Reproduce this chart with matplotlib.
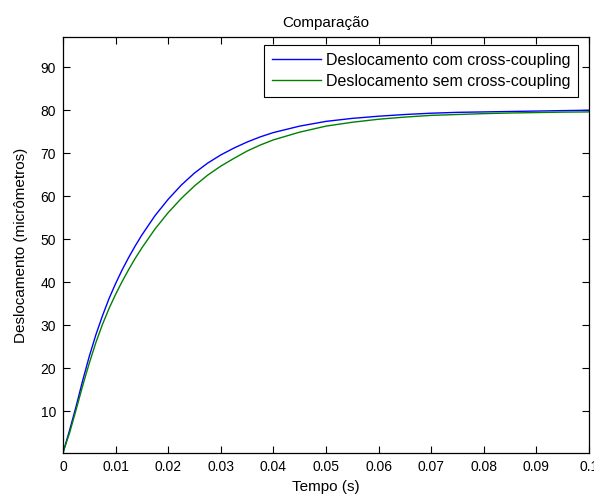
import matplotlib
matplotlib.use("Agg")
import matplotlib.pyplot as plt

plt.rcParams['font.family'] = ['Liberation Sans', 'DejaVu Sans']

# time samples (s)
tempo = [0.0, 0.00125, 0.0025, 0.00375, 0.005, 0.00625, 0.0075, 0.00875, 0.01,
         0.01125, 0.0125, 0.01375, 0.015, 0.0175, 0.02, 0.0225, 0.025, 0.0275,
         0.03, 0.0325, 0.035, 0.0375, 0.04, 0.045, 0.05, 0.055, 0.06, 0.065,
         0.07, 0.075, 0.08, 0.085, 0.09, 0.095, 0.1]

# with cross-coupling (blue)
desl_com = [0.4, 5.6, 11.2, 17.2, 22.8, 27.8, 32.2, 36.2, 39.7,
            42.9, 45.8, 48.5, 51.0, 55.5, 59.3, 62.6, 65.4, 67.7,
            69.6, 71.2, 72.6, 73.8, 74.8, 76.3, 77.4, 78.1, 78.6, 79.0,
            79.3, 79.5, 79.6, 79.7, 79.8, 79.9, 80.0]

# without cross-coupling (green)
desl_sem = [0.4, 5.0, 10.4, 16.0, 21.2, 26.0, 30.2, 33.9, 37.2,
            40.2, 43.0, 45.6, 48.0, 52.4, 56.2, 59.5, 62.4, 64.9,
            67.0, 68.8, 70.5, 71.9, 73.1, 74.9, 76.3, 77.2, 77.9, 78.4,
            78.8, 79.0, 79.2, 79.35, 79.45, 79.55, 79.6]

xticks = [0, 0.01, 0.02, 0.03, 0.04, 0.05, 0.06, 0.07, 0.08, 0.09, 0.1]
xtick_labels = ["0", "0.01", "0.02", "0.03", "0.04", "0.05", "0.06", "0.07", "0.08", "0.09", "0.1"]
yticks = [10, 20, 30, 40, 50, 60, 70, 80, 90]

fs_tick = 10
fs = 11

fig = plt.figure(figsize=(5.94, 4.97), dpi=100)
ax = fig.add_axes([0.106, 0.0885, 0.8855, 0.837])

ax.plot(tempo, desl_com, color=(0, 0, 1), lw=1.0, label="Deslocamento com cross-coupling")
ax.plot(tempo, desl_sem, color=(0, 0.5, 0), lw=1.0, label="Deslocamento sem cross-coupling")

ax.set_xlim(0, 0.1)
ax.set_ylim(0.35, 97)
ax.set_xticks(xticks)
ax.set_xticklabels(xtick_labels)
ax.set_yticks(yticks)
ax.tick_params(direction='in', length=5, width=0.8, top=True, right=True,
               labelsize=fs_tick, colors='black', pad=5)
for s in ax.spines.values():
    s.set_linewidth(0.9)

ax.set_title("Comparação", fontsize=fs, pad=7)
ax.set_xlabel("Tempo (s)", fontsize=fs, labelpad=4)
ax.set_ylabel("Deslocamento (micrômetros)", fontsize=fs, labelpad=9)

leg = ax.legend(loc='upper right', fontsize=11.5, fancybox=False, framealpha=1,
                edgecolor='black', bbox_to_anchor=(578 / 594, 1 - 45 / 497),
                bbox_transform=fig.transFigure, borderaxespad=0,
                handlelength=3.05, handletextpad=0.3, borderpad=0.5,
                labelspacing=0.35)
leg.get_frame().set_linewidth(0.8)

fig.savefig("out.png", dpi=100, facecolor='white')
